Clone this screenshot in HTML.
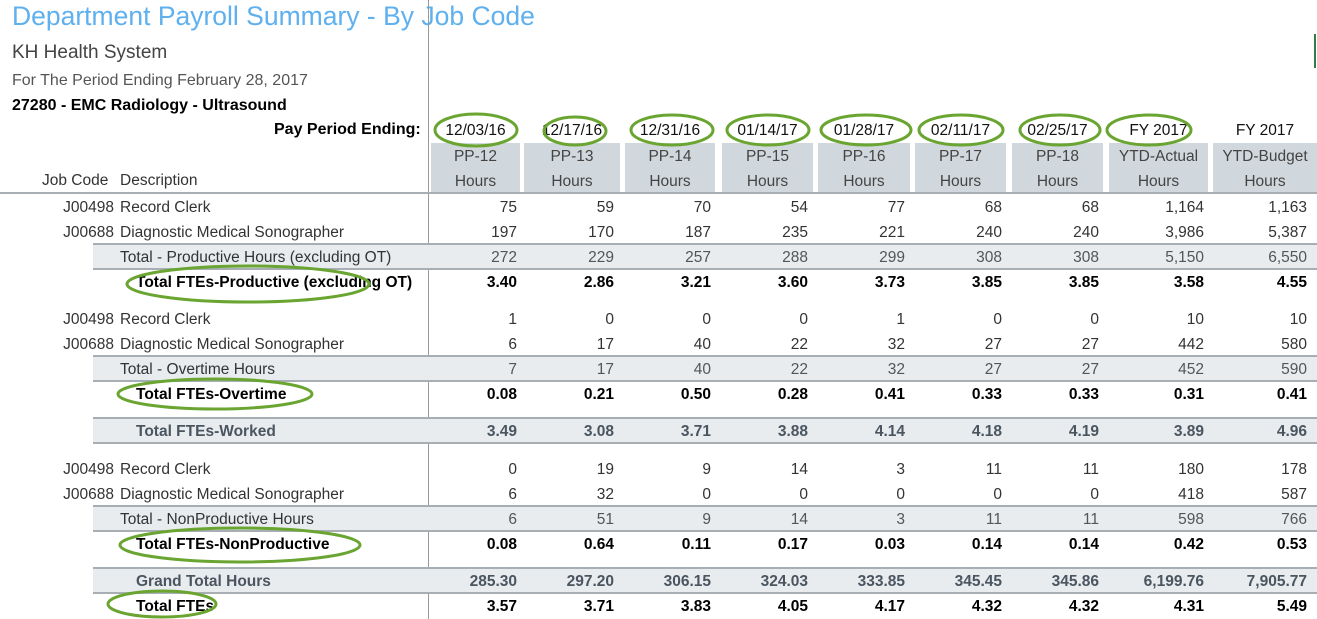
<!DOCTYPE html>
<html><head><meta charset="utf-8"><style>
body{margin:0;width:1317px;height:619px;background:#fff;position:relative;overflow:hidden;font-family:"Liberation Sans",sans-serif;font-size:15.5px;color:#222}
.a{position:absolute;white-space:nowrap}
.t{left:12px;top:1px;font-size:26.5px;color:#5eb0ee}
.r{position:absolute;left:0;width:1317px;height:25px;line-height:25px}
.g{background:#e8ecef;border-top:2px solid #a7afb5;border-bottom:2px solid #a7afb5;height:23px;line-height:23px;left:93px;width:1224px}
.r span{position:absolute;top:1px;white-space:nowrap}
.jc{left:0;width:114px;text-align:right;color:#333}
.ds{left:120px;width:308px;overflow:hidden;color:#333}
.g .ds{left:27px}
.bl{left:136px;width:292px;overflow:hidden;font-weight:bold;color:#000}
.g .bl{left:43px;color:#4a5560}
.g .n{color:#555}
.b .n{font-weight:bold;color:#000}
.g.b .n{color:#4a5560}
.n{width:90px;text-align:right;color:#333}
.c1{left:427px}.c2{left:524px}.c3{left:621px}.c4{left:718px}.c5{left:815px}.c6{left:912px}.c7{left:1009px}.c8{left:1114px}.c9{left:1217px}
.g .c1{left:334px}.g .c2{left:431px}.g .c3{left:528px}.g .c4{left:625px}.g .c5{left:722px}.g .c6{left:819px}.g .c7{left:916px}.g .c8{left:1021px}.g .c9{left:1124px}
.hb{position:absolute;top:143px;height:50px;background:#d1d8dd;text-align:center;color:#444;line-height:25px;font-size:15.5px;padding-top:1px;box-sizing:border-box}
.dt{position:absolute;top:120px;text-align:center;line-height:22px;color:#111}
</style></head><body>
<div class="a t">Department Payroll Summary - By Job Code</div>
<div class="a" style="left:12px;top:42px;font-size:19px;color:#444">KH Health System</div>
<div class="a" style="left:12px;top:72px;font-size:16px;color:#555">For The Period Ending February 28, 2017</div>
<div class="a" style="left:12px;top:97px;font-size:16px;font-weight:bold;color:#000">27280 - EMC Radiology - Ultrasound</div>
<div class="a" style="left:274px;top:121px;font-size:16px;font-weight:bold;color:#000">Pay Period Ending:</div>
<div style="position:absolute;left:428px;top:0;width:1px;height:619px;background:#999"></div>
<div style="position:absolute;left:1314px;top:34px;width:2px;height:34px;background:#2d7d46"></div>
<div class="dt" style="left:431px;width:89px">12/03/16</div>
<div class="dt" style="left:524px;width:96px">12/17/16</div>
<div class="dt" style="left:625px;width:90px">12/31/16</div>
<div class="dt" style="left:722px;width:91px">01/14/17</div>
<div class="dt" style="left:818px;width:92px">01/28/17</div>
<div class="dt" style="left:915px;width:91px">02/11/17</div>
<div class="dt" style="left:1012px;width:91px">02/25/17</div>
<div class="dt" style="left:1109px;width:99px">FY 2017</div>
<div class="dt" style="left:1213px;width:104px">FY 2017</div>
<div class="hb" style="left:431px;width:89px">PP-12<br>Hours</div>
<div class="hb" style="left:524px;width:96px">PP-13<br>Hours</div>
<div class="hb" style="left:625px;width:90px">PP-14<br>Hours</div>
<div class="hb" style="left:722px;width:91px">PP-15<br>Hours</div>
<div class="hb" style="left:818px;width:92px">PP-16<br>Hours</div>
<div class="hb" style="left:915px;width:91px">PP-17<br>Hours</div>
<div class="hb" style="left:1012px;width:91px">PP-18<br>Hours</div>
<div class="hb" style="left:1109px;width:99px">YTD-Actual<br>Hours</div>
<div class="hb" style="left:1213px;width:104px">YTD-Budget<br>Hours</div>
<div class="a" style="left:42px;top:172px;color:#333">Job Code</div>
<div class="a" style="left:120px;top:172px;color:#333">Description</div>
<div style="position:absolute;left:0;top:192px;width:1317px;height:2px;background:#a7afb5"></div>

<div class="r" style="top:194px"><span class="jc">J00498</span><span class="ds">Record Clerk</span><span class="n c1">75</span><span class="n c2">59</span><span class="n c3">70</span><span class="n c4">54</span><span class="n c5">77</span><span class="n c6">68</span><span class="n c7">68</span><span class="n c8">1,164</span><span class="n c9">1,163</span></div>
<div class="r" style="top:219px"><span class="jc">J00688</span><span class="ds">Diagnostic Medical Sonographer</span><span class="n c1">197</span><span class="n c2">170</span><span class="n c3">187</span><span class="n c4">235</span><span class="n c5">221</span><span class="n c6">240</span><span class="n c7">240</span><span class="n c8">3,986</span><span class="n c9">5,387</span></div>
<div class="r g" style="top:243px"><span class="ds">Total - Productive Hours (excluding OT)</span><span class="n c1">272</span><span class="n c2">229</span><span class="n c3">257</span><span class="n c4">288</span><span class="n c5">299</span><span class="n c6">308</span><span class="n c7">308</span><span class="n c8">5,150</span><span class="n c9">6,550</span></div>
<div class="r b" style="top:269px"><span class="bl">Total FTEs-Productive (excluding OT)</span><span class="n c1">3.40</span><span class="n c2">2.86</span><span class="n c3">3.21</span><span class="n c4">3.60</span><span class="n c5">3.73</span><span class="n c6">3.85</span><span class="n c7">3.85</span><span class="n c8">3.58</span><span class="n c9">4.55</span></div>

<div class="r" style="top:306px"><span class="jc">J00498</span><span class="ds">Record Clerk</span><span class="n c1">1</span><span class="n c2">0</span><span class="n c3">0</span><span class="n c4">0</span><span class="n c5">1</span><span class="n c6">0</span><span class="n c7">0</span><span class="n c8">10</span><span class="n c9">10</span></div>
<div class="r" style="top:331px"><span class="jc">J00688</span><span class="ds">Diagnostic Medical Sonographer</span><span class="n c1">6</span><span class="n c2">17</span><span class="n c3">40</span><span class="n c4">22</span><span class="n c5">32</span><span class="n c6">27</span><span class="n c7">27</span><span class="n c8">442</span><span class="n c9">580</span></div>
<div class="r g" style="top:355px"><span class="ds">Total - Overtime Hours</span><span class="n c1">7</span><span class="n c2">17</span><span class="n c3">40</span><span class="n c4">22</span><span class="n c5">32</span><span class="n c6">27</span><span class="n c7">27</span><span class="n c8">452</span><span class="n c9">590</span></div>
<div class="r b" style="top:381px"><span class="bl">Total FTEs-Overtime</span><span class="n c1">0.08</span><span class="n c2">0.21</span><span class="n c3">0.50</span><span class="n c4">0.28</span><span class="n c5">0.41</span><span class="n c6">0.33</span><span class="n c7">0.33</span><span class="n c8">0.31</span><span class="n c9">0.41</span></div>

<div class="r g b" style="top:417px"><span class="bl">Total FTEs-Worked</span><span class="n c1">3.49</span><span class="n c2">3.08</span><span class="n c3">3.71</span><span class="n c4">3.88</span><span class="n c5">4.14</span><span class="n c6">4.18</span><span class="n c7">4.19</span><span class="n c8">3.89</span><span class="n c9">4.96</span></div>

<div class="r" style="top:456px"><span class="jc">J00498</span><span class="ds">Record Clerk</span><span class="n c1">0</span><span class="n c2">19</span><span class="n c3">9</span><span class="n c4">14</span><span class="n c5">3</span><span class="n c6">11</span><span class="n c7">11</span><span class="n c8">180</span><span class="n c9">178</span></div>
<div class="r" style="top:481px"><span class="jc">J00688</span><span class="ds">Diagnostic Medical Sonographer</span><span class="n c1">6</span><span class="n c2">32</span><span class="n c3">0</span><span class="n c4">0</span><span class="n c5">0</span><span class="n c6">0</span><span class="n c7">0</span><span class="n c8">418</span><span class="n c9">587</span></div>
<div class="r g" style="top:505px"><span class="ds">Total - NonProductive Hours</span><span class="n c1">6</span><span class="n c2">51</span><span class="n c3">9</span><span class="n c4">14</span><span class="n c5">3</span><span class="n c6">11</span><span class="n c7">11</span><span class="n c8">598</span><span class="n c9">766</span></div>
<div class="r b" style="top:531px"><span class="bl">Total FTEs-NonProductive</span><span class="n c1">0.08</span><span class="n c2">0.64</span><span class="n c3">0.11</span><span class="n c4">0.17</span><span class="n c5">0.03</span><span class="n c6">0.14</span><span class="n c7">0.14</span><span class="n c8">0.42</span><span class="n c9">0.53</span></div>

<div class="r g b" style="top:567px"><span class="bl">Grand Total Hours</span><span class="n c1">285.30</span><span class="n c2">297.20</span><span class="n c3">306.15</span><span class="n c4">324.03</span><span class="n c5">333.85</span><span class="n c6">345.45</span><span class="n c7">345.86</span><span class="n c8">6,199.76</span><span class="n c9">7,905.77</span></div>
<div class="r b" style="top:593px"><span class="bl">Total FTEs</span><span class="n c1">3.57</span><span class="n c2">3.71</span><span class="n c3">3.83</span><span class="n c4">4.05</span><span class="n c5">4.17</span><span class="n c6">4.32</span><span class="n c7">4.32</span><span class="n c8">4.31</span><span class="n c9">5.49</span></div>

<svg style="position:absolute;left:0;top:0" width="1317" height="619"><g fill="none" stroke="#6aa531" stroke-width="3">
<ellipse cx="476" cy="130" rx="41" ry="16"/>
<ellipse cx="575" cy="131" rx="31" ry="14"/>
<ellipse cx="672" cy="130" rx="41" ry="15"/>
<ellipse cx="768" cy="130" rx="41" ry="15"/>
<ellipse cx="866" cy="130" rx="45" ry="15"/>
<ellipse cx="961" cy="130" rx="42" ry="15"/>
<ellipse cx="1060" cy="130" rx="40" ry="15"/>
<ellipse cx="1149" cy="130" rx="42" ry="15"/>
<ellipse cx="248" cy="284" rx="121" ry="18"/>
<ellipse cx="215" cy="394" rx="97" ry="15"/>
<ellipse cx="240" cy="545" rx="120" ry="17"/>
<ellipse cx="162" cy="604" rx="54" ry="13"/>
</g></svg>
</body></html>
